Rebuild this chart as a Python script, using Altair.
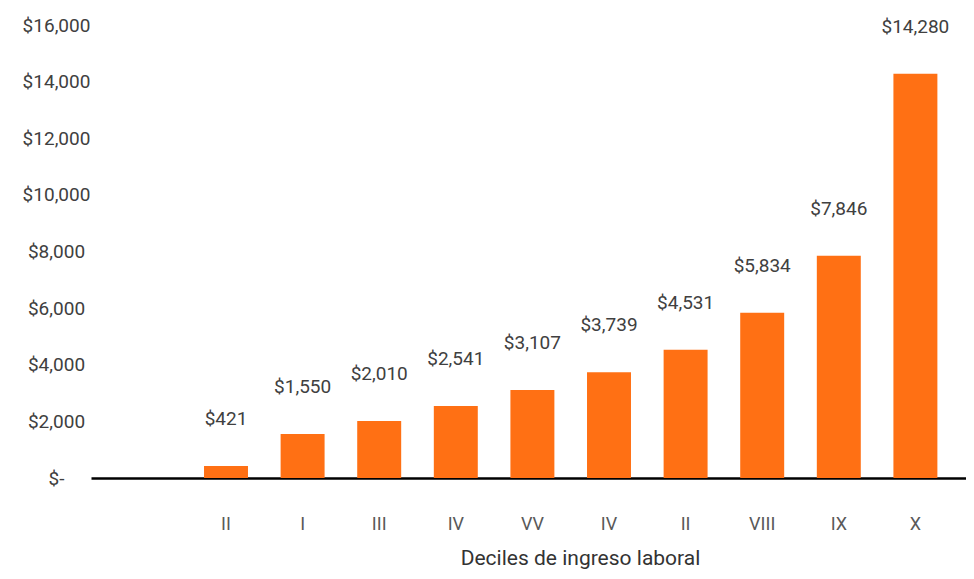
import altair as alt
import pandas as pd

slot_labels = ["", "II", "I", "III", "IV", "VV", "IV", "II", "VIII", "IX", "X"]
values = [None, 421, 1550, 2010, 2541, 3107, 3739, 4531, 5834, 7846, 14280]

df = pd.DataFrame({"idx": [str(i) for i in range(len(slot_labels))],
                   "valor": values})

label_array = "[" + ",".join("'" + s + "'" for s in slot_labels) + "]"
FONT = "Roboto"
TXT = "#404040"

x = alt.X("idx:N", sort=None,
          scale=alt.Scale(domain=list(df["idx"]), paddingInner=0.426,
                          paddingOuter=0.4245, align=0.56),
          axis=alt.Axis(title="Deciles de ingreso laboral", labelAngle=0,
                        labelExpr=f"{label_array}[toNumber(datum.value)]",
                        ticks=False, domainColor="#000000", domainWidth=2.5,
                        labelPadding=37, labelFontSize=18, labelColor="#595959",
                        labelFont=FONT, titleFont=FONT, titleFontSize=21,
                        titleFontWeight="normal", titleColor="#333333",
                        titlePadding=14, titleX=489, titleAnchor="middle"))
y = alt.Y("valor:Q",
          scale=alt.Scale(domain=[0, 16000], nice=False),
          axis=alt.Axis(title=None, values=list(range(0, 16001, 2000)),
                        labelExpr="datum.value == 0 ? '$-' : format(datum.value, '$,.0f')",
                        grid=False, domain=False, ticks=False,
                        labelAlign="center", labelPadding=35,
                        labelFontSize=19, labelColor=TXT, labelFont=FONT))

base = alt.Chart(df).transform_filter("datum.valor != null")
bars = base.mark_bar(color="#ff7014").encode(x=x, y=y)
text = base.mark_text(dy=-47, fontSize=19, font=FONT, color=TXT).encode(
    x=x, y=y, text=alt.Text("valor:Q", format="$,.0f"))

chart = (bars + text).properties(
    width=875, height=453,
    autosize=alt.AutoSizeParams(type="none"),
    padding={"left": 83, "top": 17, "right": 0, "bottom": 93},
).configure_view(stroke=None)

chart.save("out.html", embed_options={"renderer": "svg", "actions": False})
